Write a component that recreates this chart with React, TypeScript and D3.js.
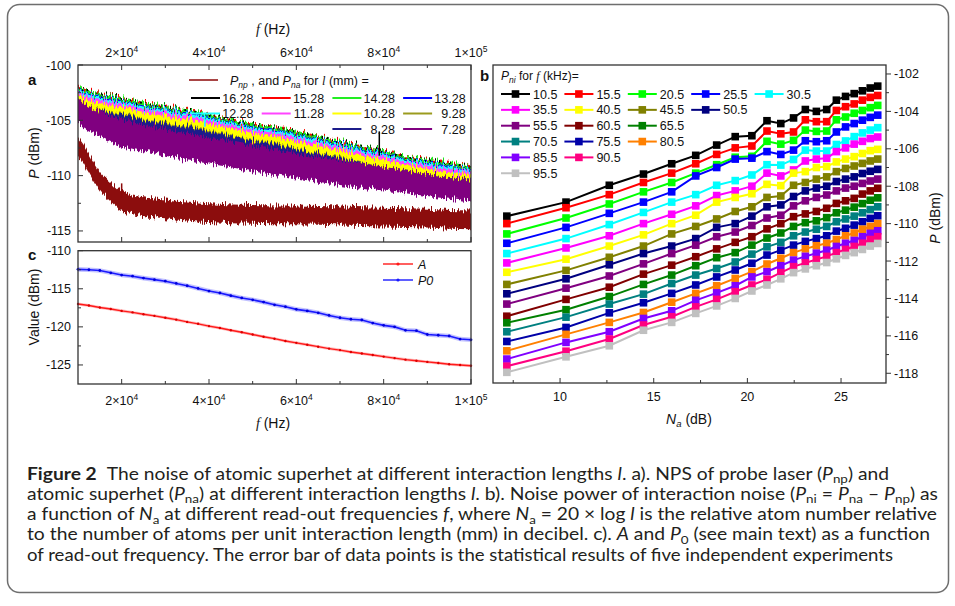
import * as d3 from "d3";

// ---------- panel a: noise spectra, upper envelope of each trace (dBm) ----------
const spectrumFreqs = [10, 12.5, 15, 20, 25, 30, 35, 40, 45, 50, 55, 60, 65, 70, 75, 80, 85, 90, 95, 100]; // kHz
const lengthLabels = ["16.28", "15.28", "14.28", "13.28", "12.28", "11.28", "10.28", "9.28", "8.28", "7.28"];
const lengthColors = ["#000000", "#ff0000", "#22ee22", "#0000ff", "#22ffff", "#ff44ff", "#ffff00", "#9b9b1e", "#1c1c8a", "#800080"];
const spectrumTop = [
  [-101.8, -102.4, -102.65, -103.0, -103.45, -103.8, -104.1, -104.5, -104.95, -105.35, -105.65, -106.05, -106.5, -106.95, -107.4, -107.8, -108.2, -108.6, -108.9, -109.2],
  [-101.75, -102.35, -102.6, -102.95, -103.4, -103.75, -104.05, -104.45, -104.9, -105.3, -105.6, -106.0, -106.45, -106.9, -107.35, -107.75, -108.15, -108.55, -108.85, -109.15],
  [-101.7, -102.3, -102.55, -102.9, -103.35, -103.7, -104.0, -104.4, -104.85, -105.25, -105.55, -105.95, -106.4, -106.85, -107.3, -107.7, -108.1, -108.5, -108.8, -109.1],
  [-102.0, -102.6, -102.85, -103.2, -103.65, -104.0, -104.3, -104.7, -105.15, -105.55, -105.85, -106.25, -106.7, -107.15, -107.6, -108.0, -108.4, -108.8, -109.1, -109.4],
  [-102.1, -102.7, -102.95, -103.3, -103.75, -104.1, -104.4, -104.8, -105.25, -105.65, -105.95, -106.35, -106.8, -107.25, -107.7, -108.1, -108.5, -108.9, -109.2, -109.5],
  [-102.3, -102.9, -103.15, -103.5, -103.95, -104.3, -104.6, -105.0, -105.45, -105.85, -106.15, -106.55, -107.0, -107.45, -107.9, -108.3, -108.7, -109.1, -109.4, -109.7],
  [-102.6, -103.2, -103.45, -103.8, -104.25, -104.6, -104.9, -105.3, -105.75, -106.15, -106.45, -106.85, -107.3, -107.75, -108.2, -108.6, -109.0, -109.4, -109.7, -110.0],
  [-103.2, -103.8, -104.05, -104.4, -104.85, -105.2, -105.5, -105.9, -106.35, -106.75, -107.05, -107.45, -107.9, -108.35, -108.8, -109.2, -109.5, -109.85, -110.1, -110.35],
  [-103.3, -103.9, -104.15, -104.5, -104.95, -105.3, -105.6, -106.0, -106.45, -106.85, -107.15, -107.55, -108.0, -108.45, -108.85, -109.25, -109.55, -109.9, -110.15, -110.4],
  [-103.0, -103.7, -104.2, -104.9, -105.4, -105.8, -106.2, -106.55, -106.9, -107.25, -107.6, -107.95, -108.3, -108.6, -108.9, -109.2, -109.55, -109.85, -110.15, -110.45],
];
// lower envelope shared by the 16.28 ... 8.28 traces (mostly hidden), and the 7.28 trace
const groupFloor = [-104.1, -104.7, -104.95, -105.3, -105.75, -106.1, -106.4, -106.8, -107.25, -107.65, -107.95, -108.35, -108.8, -109.25, -109.7, -110.1, -110.5, -110.9, -111.2, -111.5];
const purpleFloor = [-105.3, -106.0, -106.4, -107.3, -107.8, -108.2, -108.6, -108.9, -109.25, -109.6, -109.95, -110.25, -110.55, -110.85, -111.1, -111.35, -111.6, -111.85, -112.1, -112.35];

const probeFreqs = [10, 11, 12.5, 15, 17.5, 20, 25, 30, 35, 40, 45, 50, 55, 60, 65, 70, 75, 80, 85, 90, 95, 100];
const probeLevels = [-107.35, -107.9, -108.9, -110.5, -111.5, -112.3, -112.8, -113.0, -113.2, -113.35, -113.45, -113.5, -113.55, -113.55, -113.6, -113.65, -113.7, -113.75, -113.8, -113.85, -113.95, -114.0];
const probeSpread = 0.85;

const spikes = [
  { f: 20, lo: -112, hi: -110.7, color: "#8c0a0a" },
  { f: 39, lo: -105.6, hi: -104.4, color: "#22ffff" },
  { f: 79, lo: -108.2, hi: -106.0, color: "#000000" },
];

// ---------- panel b: P_ni vs N_a ----------
const interactionLengths = [2.28, 3.28, 4.28, 5.28, 6.28, 7.28, 8.28, 9.28, 10.28, 11.28, 12.28, 13.28, 14.28, 15.28, 16.28, 17.28, 18.28, 19.28, 20.28, 21.28, 22.28]; // mm
const readoutLabels = ["10.5", "15.5", "20.5", "25.5", "30.5", "35.5", "40.5", "45.5", "50.5", "55.5", "60.5", "65.5", "70.5", "75.5", "80.5", "85.5", "90.5", "95.5"];
const readoutColors = ["#000000", "#ff0000", "#00ff00", "#0000ff", "#00ffff", "#ff00ff", "#ffff00", "#808000", "#000080", "#800080", "#800000", "#008000", "#008080", "#0000a8", "#ff8000", "#8000ff", "#ff0080", "#c0c0c0"];
const pni = [
  [-109.6, -108.85, -107.95, -107.35, -106.8, -106.35, -105.8, -105.35, -105.3, -104.5, -104.65, -104.35, -103.9, -104.0, -103.9, -103.4, -103.2, -103.05, -102.9, -102.75, -102.65],
  [-110.0, -109.15, -108.45, -107.8, -107.3, -106.8, -106.3, -105.95, -105.85, -105.05, -105.2, -105.1, -104.45, -104.55, -104.55, -103.95, -103.75, -103.6, -103.4, -103.25, -103.15],
  [-110.55, -109.7, -108.95, -108.3, -107.8, -107.3, -106.85, -106.45, -106.4, -105.6, -105.75, -105.55, -105.0, -105.07, -105.05, -104.45, -104.3, -104.1, -103.95, -103.8, -103.68],
  [-111.05, -110.2, -109.45, -108.85, -108.3, -107.45, -107.0, -106.55, -106.5, -106.15, -106.3, -106.07, -105.57, -105.62, -105.57, -105.1, -104.83, -104.65, -104.47, -104.32, -104.2],
  [-111.6, -110.8, -110.05, -109.4, -108.85, -108.45, -107.95, -107.7, -107.4, -106.85, -106.87, -106.57, -106.07, -106.12, -106.12, -105.77, -105.58, -105.35, -105.15, -105.0, -104.87],
  [-112.1, -111.3, -110.65, -110.0, -109.5, -109.05, -108.5, -108.25, -108.0, -107.3, -107.45, -107.13, -106.65, -106.55, -106.5, -106.15, -105.95, -105.75, -105.6, -105.45, -105.37],
  [-112.6, -111.9, -111.2, -110.6, -110.0, -109.55, -108.85, -108.6, -108.4, -107.9, -107.97, -107.3, -107.22, -107.0, -106.95, -106.7, -106.55, -106.42, -106.25, -106.1, -106.03],
  [-113.25, -112.5, -111.8, -111.2, -110.55, -110.15, -109.75, -109.35, -109.1, -108.6, -108.52, -107.95, -107.8, -107.62, -107.5, -107.22, -107.05, -106.92, -106.78, -106.65, -106.55],
  [-113.75, -112.95, -112.2, -111.6, -111.2, -110.8, -110.2, -110.0, -109.6, -109.1, -109.0, -108.55, -108.25, -108.1, -108.0, -107.75, -107.62, -107.5, -107.32, -107.2, -107.1],
  [-114.3, -113.45, -112.8, -112.15, -111.6, -111.15, -110.7, -110.45, -110.1, -109.7, -109.55, -109.05, -108.78, -108.6, -108.47, -108.25, -108.1, -108.0, -107.85, -107.72, -107.62],
  [-114.95, -114.05, -113.4, -112.7, -112.22, -111.77, -111.35, -111.0, -110.7, -110.28, -110.0, -109.63, -109.48, -109.35, -109.18, -108.92, -108.78, -108.65, -108.42, -108.25, -108.11],
  [-115.3, -114.6, -113.9, -113.25, -112.75, -112.25, -111.82, -111.55, -111.15, -110.77, -110.5, -110.15, -109.95, -109.85, -109.68, -109.42, -109.28, -109.12, -108.93, -108.75, -108.62],
  [-115.78, -115.0, -114.3, -113.77, -113.2, -112.75, -112.4, -112.05, -111.63, -111.24, -111.0, -110.65, -110.45, -110.3, -110.15, -109.9, -109.75, -109.6, -109.42, -109.25, -109.1],
  [-116.3, -115.55, -114.77, -114.23, -113.73, -113.28, -112.85, -112.48, -112.12, -111.68, -111.42, -111.15, -110.95, -110.8, -110.65, -110.4, -110.25, -110.08, -109.9, -109.72, -109.58],
  [-116.8, -115.92, -115.28, -114.75, -114.2, -113.73, -113.32, -112.93, -112.57, -112.16, -111.85, -111.55, -111.35, -111.18, -111.05, -110.85, -110.65, -110.5, -110.3, -110.15, -110.0],
  [-117.24, -116.35, -115.78, -115.07, -114.66, -114.1, -113.7, -113.32, -112.85, -112.57, -112.25, -111.95, -111.75, -111.58, -111.42, -111.22, -111.05, -110.9, -110.7, -110.52, -110.38],
  [-117.62, -116.82, -116.17, -115.42, -114.98, -114.45, -114.05, -113.64, -113.28, -112.98, -112.62, -112.3, -112.1, -111.92, -111.75, -111.55, -111.38, -111.22, -111.05, -110.85, -110.7],
  [-117.95, -117.12, -116.53, -115.7, -115.28, -114.8, -114.4, -114.0, -113.6, -113.28, -112.95, -112.62, -112.42, -112.25, -112.08, -111.88, -111.7, -111.55, -111.38, -111.2, -111.06],
];

// ---------- panel c: fit parameters ----------
const fitFreqs = [10, 12.5, 15, 17.5, 20, 22.5, 25, 27.5, 30, 32.5, 35, 37.5, 40, 42.5, 45, 47.5, 50, 52.5, 55, 57.5, 60, 62.5, 65, 67.5, 70, 72.5, 75, 77.5, 80, 82.5, 85, 87.5, 90, 92.5, 95, 97.5, 100];
const fitP0 = [-112.45, -112.5, -112.6, -112.9, -113.2, -113.35, -113.6, -113.8, -114.0, -114.3, -114.6, -114.95, -115.3, -115.55, -115.9, -116.2, -116.45, -116.75, -117.1, -117.35, -117.7, -117.9, -118.15, -118.5, -118.8, -119.0, -119.1, -119.5, -119.8, -120.0, -120.45, -120.5, -121.0, -121.1, -121.2, -121.6, -121.7];
const fitA = [-117.0, -117.2, -117.45, -117.65, -117.9, -118.1, -118.35, -118.55, -118.8, -119.05, -119.35, -119.6, -119.9, -120.15, -120.45, -120.7, -121.0, -121.3, -121.55, -121.85, -122.1, -122.35, -122.6, -122.85, -123.05, -123.3, -123.5, -123.7, -123.9, -124.1, -124.3, -124.45, -124.6, -124.75, -124.9, -125.0, -125.1];
const errP0 = 0.3;
const errA = 0.2;

const freqTicks = [20, 40, 60, 80, 100];
const freqMinor = [30, 50, 70, 90];

type Seg = { t: string; s?: "b" | "i" | "sub" };
const caption: Seg[][] = [
  [{ t: "Figure 2", s: "b" }, { t: " The noise of atomic superhet at different interaction lengths " }, { t: "l", s: "i" }, { t: ". a). NPS of probe laser (" }, { t: "P", s: "i" }, { t: "np", s: "sub" }, { t: ") and" }],
  [{ t: "atomic superhet (" }, { t: "P", s: "i" }, { t: "na", s: "sub" }, { t: ") at different interaction lengths " }, { t: "l", s: "i" }, { t: ". b). Noise power of interaction noise (" }, { t: "P", s: "i" }, { t: "ni", s: "sub" }, { t: " = " }, { t: "P", s: "i" }, { t: "na", s: "sub" }, { t: " \u2013 " }, { t: "P", s: "i" }, { t: "np", s: "sub" }, { t: ") as" }],
  [{ t: "a function of " }, { t: "N", s: "i" }, { t: "a", s: "sub" }, { t: " at different read-out frequencies " }, { t: "f", s: "i" }, { t: ", where " }, { t: "N", s: "i" }, { t: "a", s: "sub" }, { t: " = 20 \u00d7 log " }, { t: "l", s: "i" }, { t: " is the relative atom number relative" }],
  [{ t: "to the number of atoms per unit interaction length (mm) in decibel. c). " }, { t: "A", s: "i" }, { t: " and " }, { t: "P", s: "i" }, { t: "0", s: "sub" }, { t: " (see main text) as a function" }],
  [{ t: "of read-out frequency. The error bar of data points is the statistical results of five independent experiments" }],
];
const captionWidths = [862, 911, 910, 903, 866];

const sans = "'Liberation Sans', Arial, Helvetica, sans-serif";
const serif = "'Liberation Serif', 'Times New Roman', serif";

const Sci = ({ x, y, v }: { x: number; y: number; v: number }) => {
  const e = Math.floor(Math.log10(v * 1000));
  const m = Math.round((v * 1000) / Math.pow(10, e));
  return (
    <text x={x} y={y} textAnchor="middle" fontSize={12.5}>
      <tspan>{m}×10</tspan>
      <tspan dy={-5} fontSize={8.5}>{e}</tspan>
    </text>
  );
};

const App = () => {
  // panel a
  const xa = d3.scaleLinear().domain([10, 100]).range([78, 471]);
  const ya = d3.scaleLinear().domain([-116, -100]).range([242, 65]);
  // panel c
  const yc = d3.scaleLinear().domain([-127.5, -110]).range([384, 250.7]);
  // panel b
  const xb = d3.scaleLinear().domain([6.42, 27.4]).range([493, 886]);
  const yb = d3.scaleLinear().domain([-118.52, -101.52]).range([383, 65]);

  const envelope = (freqs: number[], top: number[], bottom: number[]) =>
    d3
      .area<number>()
      .x((_, i) => xa(freqs[i]))
      .y0((_, i) => ya(bottom[i]))
      .y1((d) => ya(d))
      .curve(d3.curveMonotoneX)(top) ?? "";
  const topLine = (top: number[]) =>
    d3
      .line<number>()
      .x((_, i) => xa(spectrumFreqs[i]))
      .y((d) => ya(d))
      .curve(d3.curveMonotoneX)(top) ?? "";

  const na = interactionLengths.map((l) => 20 * Math.log10(l));
  const lineB = d3
    .line<number>()
    .x((_, i) => xb(na[i]))
    .y((d) => yb(d));

  const lineC = d3
    .line<number>()
    .x((_, i) => xa(fitFreqs[i]))
    .y((d) => yc(d));
  const bandC = (vals: number[], e: number) =>
    d3
      .area<number>()
      .x((_, i) => xa(fitFreqs[i]))
      .y0((d) => yc(d - e))
      .y1((d) => yc(d + e))(vals) ?? "";

  const legendSlot = (i: number) => (i < 8 ? i : i + 2);

  return (
    <svg width={955} height={606} style={{ position: "absolute", left: 0, top: 0, background: "#fff" }} fontFamily={sans} fill="#111">
      <defs>
        <clipPath id="clipA">
          <rect x={78} y={65} width={393} height={177} />
        </clipPath>
        <filter id="noisy" x="-2%" y="-10%" width="104%" height="120%">
          <feTurbulence type="fractalNoise" baseFrequency="0.9 0.03" numOctaves={2} seed={7} result="t" />
          <feColorMatrix in="t" type="matrix" values="0 0 0 0 0.5  0 1 0 0 0  0 0 0 0 0  0 0 0 0 1" result="m" />
          <feDisplacementMap in="SourceGraphic" in2="m" scale={13} xChannelSelector="R" yChannelSelector="G" />
        </filter>
      </defs>
      <rect x={7.5} y={4.5} width={941} height={588} rx={12} fill="none" stroke="#6e6e6e" strokeWidth={1.5} />

      {/* ---------- panel a ---------- */}
      <g clipPath="url(#clipA)">
        <g filter="url(#noisy)">
          <path
            d={envelope(probeFreqs, probeLevels.map((v) => v + probeSpread), probeLevels.map((v) => v - probeSpread))}
            fill="#8c0a0a"
          />
          {spectrumTop.map((top, k) => (
            <path key={k} d={envelope(spectrumFreqs, top, k === 9 ? purpleFloor : groupFloor)} fill={lengthColors[k]} />
          ))}
          {[0, 1].map((k) => (
            <path key={k} d={topLine(spectrumTop[k])} fill="none" stroke={lengthColors[k]} strokeWidth={2} strokeDasharray={k ? "2 5" : "2 3"} />
          ))}
        </g>
        {spikes.map((s, i) => (
          <line key={i} x1={xa(s.f)} x2={xa(s.f)} y1={ya(s.lo)} y2={ya(s.hi)} stroke={s.color} strokeWidth={1.5} />
        ))}
      </g>
      <rect x={78} y={65} width={393} height={177} fill="none" stroke="#333" strokeWidth={1.3} />
      {freqTicks.map((f) => (
        <g key={f} stroke="#333" strokeWidth={1}>
          <line x1={xa(f)} x2={xa(f)} y1={65} y2={70} />
          <line x1={xa(f)} x2={xa(f)} y1={242} y2={237} />
        </g>
      ))}
      {freqMinor.map((f) => (
        <g key={f} stroke="#333" strokeWidth={1}>
          <line x1={xa(f)} x2={xa(f)} y1={65} y2={68} />
          <line x1={xa(f)} x2={xa(f)} y1={242} y2={239} />
        </g>
      ))}
      {[-100, -105, -110, -115].map((v) => (
        <g key={v}>
          <line x1={78} x2={83} y1={ya(v)} y2={ya(v)} stroke="#333" />
          <text x={71} y={ya(v) + 4.5} textAnchor="end" fontSize={12.5}>{v}</text>
        </g>
      ))}
      {[-102.5, -107.5, -112.5].map((v) => (
        <line key={v} x1={78} x2={81} y1={ya(v)} y2={ya(v)} stroke="#333" />
      ))}
      {freqTicks.map((f) => (
        <Sci key={f} x={xa(f)} y={57} v={f} />
      ))}
      <text x={273} y={34} textAnchor="middle" fontSize={14}>
        <tspan fontFamily={serif} fontStyle="italic">f</tspan>
        <tspan> (Hz)</tspan>
      </text>
      <text transform="translate(39,153) rotate(-90)" textAnchor="middle" fontSize={14}>
        <tspan fontStyle="italic">P</tspan>
        <tspan> (dBm)</tspan>
      </text>
      <text x={28} y={85} fontSize={15} fontWeight="bold">a</text>

      {/* legend a */}
      <line x1={189} x2={218} y1={80} y2={80} stroke="#a03030" strokeWidth={1.8} />
      <text x={230} y={84.5} fontSize={12.5}>
        <tspan fontStyle="italic">P</tspan>
        <tspan dy={3} fontSize={8.5} fontStyle="italic">np</tspan>
        <tspan dy={-3}> , and </tspan>
        <tspan fontStyle="italic">P</tspan>
        <tspan dy={3} fontSize={8.5} fontStyle="italic">na</tspan>
        <tspan dy={-3}> for </tspan>
        <tspan fontFamily={serif} fontStyle="italic">l</tspan>
        <tspan> (mm) =</tspan>
      </text>
      {lengthLabels.map((lab, i) => {
        const s = legendSlot(i);
        const x0 = 191 + (s % 4) * 70.7;
        const y0 = 98 + Math.floor(s / 4) * 15.5;
        return (
          <g key={lab}>
            <line x1={x0} x2={x0 + 29} y1={y0} y2={y0} stroke={lengthColors[i]} strokeWidth={2} />
            <text x={x0 + 62.5} y={y0 + 4.5} textAnchor="end" fontSize={12.5}>{lab}</text>
          </g>
        );
      })}

      {/* ---------- panel c ---------- */}
      <path d={bandC(fitP0, errP0)} fill="#8f8fff" opacity={0.55} />
      <path d={bandC(fitA, errA)} fill="#ff8f8f" opacity={0.55} />
      <path d={lineC(fitP0) ?? ""} fill="none" stroke="#1a1aff" strokeWidth={1.6} />
      <path d={lineC(fitA) ?? ""} fill="none" stroke="#ff1a1a" strokeWidth={1.4} />
      {fitFreqs.map((f, i) => (
        <g key={f}>
          <circle cx={xa(f)} cy={yc(fitP0[i])} r={1.4} fill="#0000dd" />
          <circle cx={xa(f)} cy={yc(fitA[i])} r={1.2} fill="#dd0000" />
        </g>
      ))}
      <rect x={78} y={250.7} width={393} height={133.3} fill="none" stroke="#333" strokeWidth={1.3} />
      {freqTicks.map((f) => (
        <g key={f}>
          <line x1={xa(f)} x2={xa(f)} y1={384} y2={379} stroke="#333" />
          <Sci x={xa(f)} y={405} v={f} />
        </g>
      ))}
      {freqMinor.map((f) => (
        <line key={f} x1={xa(f)} x2={xa(f)} y1={384} y2={381} stroke="#333" />
      ))}
      {[-110, -115, -120, -125].map((v) => (
        <g key={v}>
          <line x1={78} x2={83} y1={yc(v)} y2={yc(v)} stroke="#333" />
          <text x={71} y={yc(v) + 4.5} textAnchor="end" fontSize={12.5}>{v}</text>
        </g>
      ))}
      {[-112.5, -117.5, -122.5].map((v) => (
        <line key={v} x1={78} x2={81} y1={yc(v)} y2={yc(v)} stroke="#333" />
      ))}
      <text x={273} y={428} textAnchor="middle" fontSize={14}>
        <tspan fontFamily={serif} fontStyle="italic">f</tspan>
        <tspan> (Hz)</tspan>
      </text>
      <text transform="translate(39,307) rotate(-90)" textAnchor="middle" fontSize={14}>Value (dBm)</text>
      <text x={28} y={260} fontSize={15} fontWeight="bold">c</text>
      {[
        { lab: "A", c: "#ff1a1a", y: 264 },
        { lab: "P0", c: "#1a1aff", y: 280 },
      ].map((l) => (
        <g key={l.lab}>
          <line x1={383} x2={413} y1={l.y} y2={l.y} stroke={l.c} strokeWidth={1.4} />
          <circle cx={398} cy={l.y} r={1.6} fill={l.c} />
          <text x={418} y={l.y + 4.5} fontSize={12.5} fontStyle="italic">{l.lab}</text>
        </g>
      ))}

      {/* ---------- panel b ---------- */}
      {pni.map((vals, k) => (
        <g key={k}>
          <path d={lineB(vals) ?? ""} fill="none" stroke={readoutColors[k]} strokeWidth={2} />
          {vals.map((v, i) => (
            <rect key={i} x={xb(na[i]) - 3.8} y={yb(v) - 3.8} width={7.6} height={7.6} fill={readoutColors[k]} />
          ))}
        </g>
      ))}
      <rect x={493} y={65} width={393} height={318} fill="none" stroke="#333" strokeWidth={1.3} />
      {[10, 15, 20, 25].map((v) => (
        <g key={v}>
          <line x1={xb(v)} x2={xb(v)} y1={383} y2={378} stroke="#333" />
          <text x={xb(v)} y={401} textAnchor="middle" fontSize={12.5}>{v}</text>
        </g>
      ))}
      {[7.5, 12.5, 17.5, 22.5].map((v) => (
        <line key={v} x1={xb(v)} x2={xb(v)} y1={383} y2={380} stroke="#333" />
      ))}
      {d3.range(-118, -101, 2).map((v) => (
        <g key={v}>
          <line x1={886} x2={891} y1={yb(v)} y2={yb(v)} stroke="#333" />
          <text x={894} y={yb(v) + 4.5} fontSize={12.5}>{v}</text>
        </g>
      ))}
      {d3.range(-117, -101, 2).map((v) => (
        <line key={v} x1={886} x2={889} y1={yb(v)} y2={yb(v)} stroke="#333" />
      ))}
      <text x={689} y={424} textAnchor="middle" fontSize={14}>
        <tspan fontStyle="italic">N</tspan>
        <tspan dy={3} fontSize={9.5} fontStyle="italic">a</tspan>
        <tspan dy={-3}> (dB)</tspan>
      </text>
      <text transform="translate(940,218) rotate(-90)" textAnchor="middle" fontSize={14}>
        <tspan fontStyle="italic">P</tspan>
        <tspan> (dBm)</tspan>
      </text>
      <text x={480} y={81} fontSize={15} fontWeight="bold">b</text>

      {/* legend b */}
      <text x={501} y={80} fontSize={12}>
        <tspan fontStyle="italic">P</tspan>
        <tspan dy={3} fontSize={8.5} fontStyle="italic">ni</tspan>
        <tspan dy={-3}> for </tspan>
        <tspan fontFamily={serif} fontStyle="italic">f</tspan>
        <tspan> (kHz)=</tspan>
      </text>
      {readoutLabels.map((lab, i) => {
        const rowStarts = [0, 5, 9, 12, 15, 17];
        let row = 0;
        for (let r = 0; r < rowStarts.length; r++) if (i >= rowStarts[r]) row = r;
        const col = i - rowStarts[row];
        const x0 = 501 + col * 63.4;
        const y0 = 94 + row * 15.85;
        return (
          <g key={lab}>
            <line x1={x0} x2={x0 + 29} y1={y0} y2={y0} stroke={readoutColors[i]} strokeWidth={2} />
            <rect x={x0 + 14.5 - 3.8} y={y0 - 3.8} width={7.6} height={7.6} fill={readoutColors[i]} />
            <text x={x0 + 32} y={y0 + 4.5} fontSize={12.5}>{lab}</text>
          </g>
        );
      })}

      {/* ---------- caption ---------- */}
      {caption.map((segs, li) => {
        let shifted = false;
        return (
          <text
            key={li}
            x={27}
            y={479.5 + li * 20.3}
            fontSize={16.5}
            fontFamily="Lato, 'Open Sans', sans-serif"
            fill="#231f20"
            textLength={captionWidths[li]}
            lengthAdjust="spacingAndGlyphs"
          >
            {segs.map((s, si) => {
              let dy = 0;
              if (s.s === "sub" && !shifted) {
                dy = 3.5;
                shifted = true;
              } else if (s.s !== "sub" && shifted) {
                dy = -3.5;
                shifted = false;
              }
              return (
                <tspan
                  key={si}
                  dy={dy || undefined}
                  dx={si === 1 && li === 0 ? 5 : undefined}
                  fontSize={s.s === "sub" ? 11.5 : undefined}
                  fontWeight={s.s === "b" ? "bold" : undefined}
                  fontStyle={s.s === "i" ? "italic" : undefined}
                >
                  {s.t}
                </tspan>
              );
            })}
          </text>
        );
      })}
    </svg>
  );
};

export default App;
